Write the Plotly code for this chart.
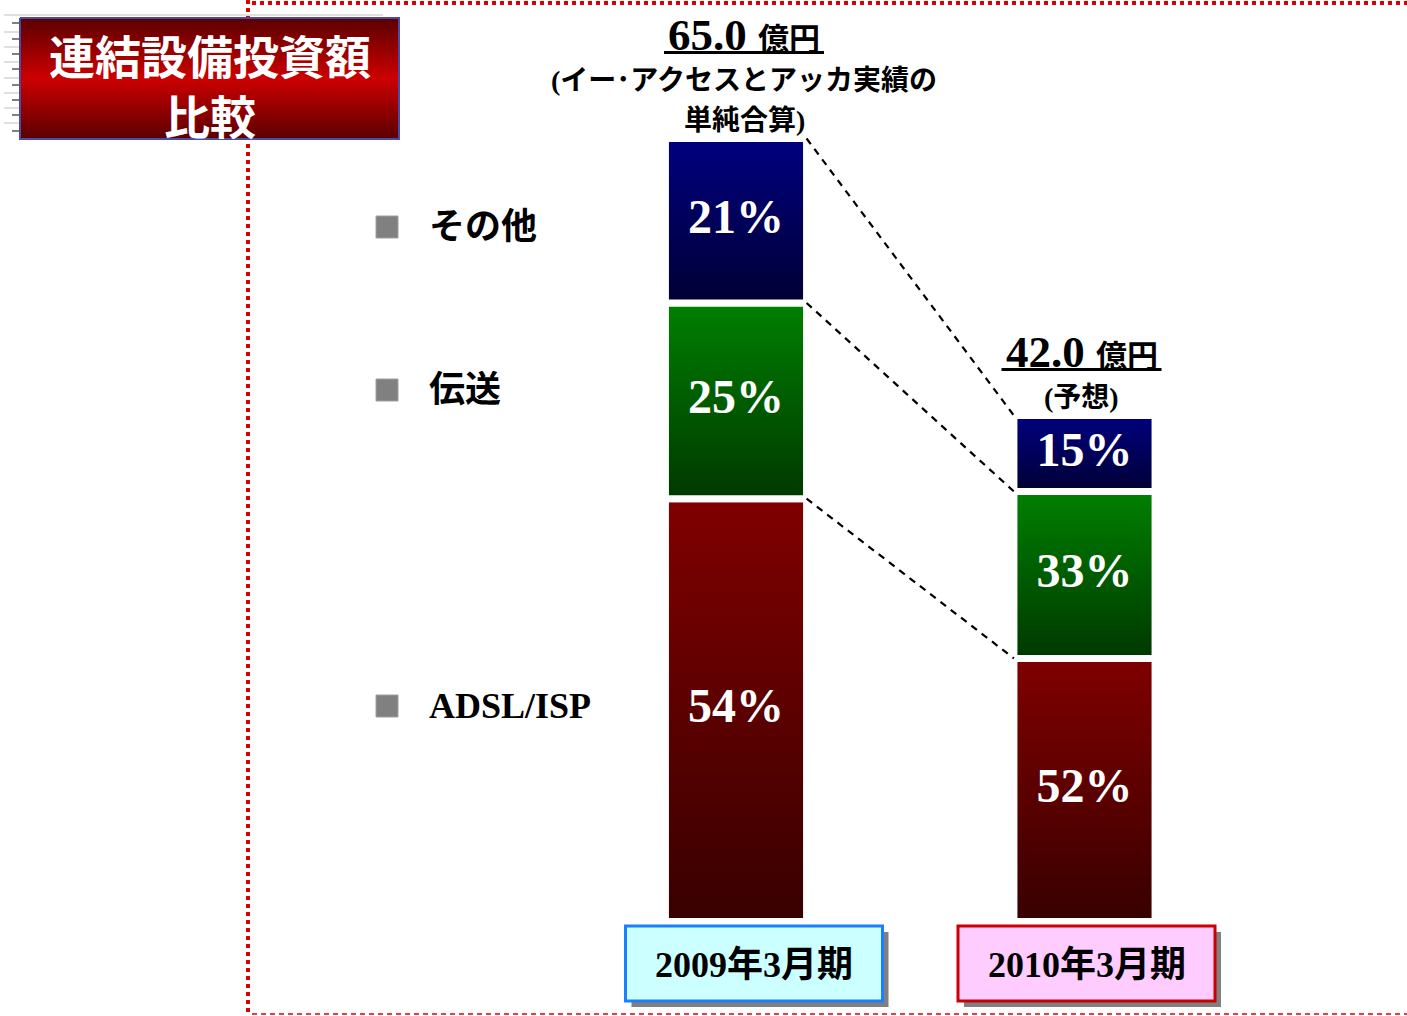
import plotly.graph_objects as go

# ---------------- data ----------------
periods = ["2009年3月期", "2010年3月期"]
totals = [65.0, 42.0]  # 億円
total_notes = [["(イー･アクセスとアッカ実績の", "単純合算)"], ["(予想)"]]
segments = ["ADSL/ISP", "伝送", "その他"]  # stacked bottom -> top
share_adsl = [54, 52]
share_transport = [25, 33]
share_other = [21, 15]
unit_label = "億円"
title_lines = ["連結設備投資額", "比較"]

# ---------------- style ----------------
SERIF_CJK = "Liberation Serif, Noto Sans CJK JP"
GOTHIC = "Noto Sans CJK JP"
seg_colors = {
    "ADSL/ISP": ("#380000", "#800000"),
    "伝送": ("#003800", "#008000"),
    "その他": ("#000034", "#000080"),
}
box_styles = [("#ccffff", "#1a80ff"), ("#ffccff", "#cc0000")]
label_dx = [8, -3]
box_dx = [18, 2]
x_pos = [0, 1]
BAR_W = 0.405
PX_X = 348.5   # pixels per x unit
PX_Y = 12.046  # pixels per 億円
X0_PX, Y0_PX = 736, 921.5

fig = go.Figure()

shares = [share_adsl, share_transport, share_other]
bounds = []
for i, xc in enumerate(x_pos):
    base = 0.0
    cum = [0.0]
    for name, sh in zip(segments, shares):
        v = totals[i] * sh[i] / 100.0
        top = base + v
        c0, c1 = seg_colors[name]
        fig.add_trace(go.Scatter(
            x=[xc - BAR_W / 2, xc + BAR_W / 2, xc + BAR_W / 2, xc - BAR_W / 2, xc - BAR_W / 2],
            y=[base, base, top, top, base],
            mode="lines", fill="toself",
            line=dict(color="white", width=7),
            fillgradient=dict(type="vertical", colorscale=[[0, c0], [1, c1]]),
            hoverinfo="skip", showlegend=False))
        fig.add_trace(go.Scatter(
            x=[xc], y=[(base + top) / 2], mode="text", text=[f"{sh[i]}%"],
            textposition="middle center",
            textfont=dict(family="Liberation Serif", size=48, color="white", weight="bold"),
            hoverinfo="skip", showlegend=False))
        base = top
        cum.append(top)
    bounds.append(cum)

# dashed connectors between segment boundaries
for k in range(1, len(segments) + 1):
    fig.add_trace(go.Scatter(
        x=[x_pos[0] + BAR_W / 2, x_pos[1] - BAR_W / 2],
        y=[bounds[0][k], bounds[1][k]],
        mode="lines", line=dict(color="black", width=2.2, dash="7px,6px"),
        hoverinfo="skip", showlegend=False))

# totals + notes + underline
for i, xc in enumerate(x_pos):
    notes = total_notes[i]
    n = len(notes)
    for j, line in enumerate(reversed(notes)):
        fig.add_annotation(x=xc, y=totals[i], xref="x", yref="y", text=line,
                           showarrow=False, yanchor="middle", xanchor="center",
                           yshift=18 + 40 * j, xshift=label_dx[i],
                           font=dict(family=SERIF_CJK, size=28, color="black", weight="bold"))
    vshift = 18 + 40 * (n - 1) + 46
    fig.add_annotation(x=xc, y=totals[i], xref="x", yref="y",
                       text=f"{totals[i]:.1f} <span style='font-size:31px'>{unit_label}</span>",
                       showarrow=False, yanchor="middle", xanchor="center",
                       yshift=vshift, xshift=label_dx[i],
                       font=dict(family=SERIF_CJK, size=45, color="black", weight="bold"))
    fig.add_shape(type="line", xref="x", yref="y",
                  xsizemode="pixel", xanchor=xc, x0=-80 + label_dx[i], x1=80 + label_dx[i],
                  ysizemode="pixel", yanchor=totals[i], y0=vshift - 18, y1=vshift - 18,
                  line=dict(color="black", width=3))

# category label boxes with shadow
for i, xc in enumerate(x_pos):
    fill, border = box_styles[i]
    d = box_dx[i]
    fig.add_shape(type="rect", xref="x", yref="y",
                  xsizemode="pixel", xanchor=xc, x0=-128.5 + d + 6, x1=128.5 + d + 6,
                  ysizemode="pixel", yanchor=0, y0=-4.5 - 6, y1=-79.5 - 6,
                  fillcolor="#808080", line=dict(width=0))
    fig.add_shape(type="rect", xref="x", yref="y",
                  xsizemode="pixel", xanchor=xc, x0=-128.5 + d, x1=128.5 + d,
                  ysizemode="pixel", yanchor=0, y0=-4.5, y1=-79.5,
                  fillcolor=fill, line=dict(color=border, width=3))
    fig.add_annotation(x=xc, y=0, xref="x", yref="y", text=periods[i], showarrow=False,
                       yanchor="middle", xanchor="center", yshift=-43.5, xshift=d,
                       font=dict(family=SERIF_CJK, size=36, color="black", weight="bold"))

# ---------------- decorations in pixel space (x2/y2) ----------------
fig.add_trace(go.Scatter(
    x=[20, 399, 399, 20, 20], y=[18, 18, 139, 139, 18],
    xaxis="x2", yaxis="y2", mode="lines", fill="toself",
    line=dict(color="#4a4aa8", width=2),
    fillgradient=dict(type="vertical",
                      colorscale=[[0, "#5a0000"], [0.5, "#cc0000"], [1, "#5a0000"]]),
    hoverinfo="skip", showlegend=False))
fig.add_annotation(x=209.5, y=83.5, xref="x2", yref="y2", text="<br>".join(title_lines),
                   showarrow=False, xanchor="center", yanchor="middle",
                   font=dict(family=GOTHIC, size=46, color="white", weight="bold"))

# legend (top -> bottom)
legend_y = [227, 390, 706]
for name, yy in zip(reversed(segments), legend_y):
    fig.add_shape(type="rect", xref="x2", yref="y2", x0=376, x1=398, y0=yy - 11, y1=yy + 11,
                  fillcolor="#808080", line=dict(color="#a0a0a0", width=1))
    fig.add_annotation(x=427, y=yy, xref="x2", yref="y2", text=name, showarrow=False,
                       xanchor="left", yanchor="middle",
                       font=dict(family=SERIF_CJK, size=36, color="black", weight="bold"))

# left-edge ruler decorations
fig.add_shape(type="line", xref="x2", yref="y2", x0=4, x1=383, y0=15, y1=15,
              line=dict(color="#e0e0e0", width=2), layer="below")
for yy in [32, 47, 62, 78, 93, 108, 123]:
    fig.add_shape(type="line", xref="x2", yref="y2", x0=4, x1=20, y0=yy, y1=yy,
                  line=dict(color="#e0e0e0", width=2), layer="below")
for yy in [23, 39, 54, 69, 85, 100, 115, 131]:
    fig.add_shape(type="line", xref="x2", yref="y2", x0=12, x1=20, y0=yy, y1=yy,
                  line=dict(color="#808080", width=2), layer="below")

# red dotted frame
fig.add_shape(type="line", xref="x2", yref="y2", x0=248, x1=248, y0=0, y1=1016,
              line=dict(color="#dd0000", width=4, dash="4px,4px"), layer="below")
fig.add_shape(type="line", xref="x2", yref="y2", x0=252, x1=1407, y0=3, y1=3,
              line=dict(color="#dd0000", width=4, dash="4px,4px"), layer="below")
fig.add_shape(type="line", xref="x2", yref="y2", x0=252, x1=1407, y0=1014, y1=1014,
              line=dict(color="#dd0000", width=1.5, dash="5px,4px"), layer="below")

fig.update_layout(
    width=1407, height=1016,
    margin=dict(l=0, r=0, t=0, b=0),
    paper_bgcolor="white", plot_bgcolor="white",
    showlegend=False,
    xaxis=dict(range=[-X0_PX / PX_X, (1407 - X0_PX) / PX_X], visible=False, fixedrange=True),
    yaxis=dict(range=[-(1016 - Y0_PX) / PX_Y, Y0_PX / PX_Y], visible=False, fixedrange=True),
    xaxis2=dict(range=[0, 1407], overlaying="x", anchor="y2", visible=False, fixedrange=True),
    yaxis2=dict(range=[1016, 0], overlaying="y", anchor="x2", visible=False, fixedrange=True),
)

fig.write_html("out.html", config={"displayModeBar": False},
               post_script="document.body.style.margin='0';document.body.style.overflow='hidden';")
